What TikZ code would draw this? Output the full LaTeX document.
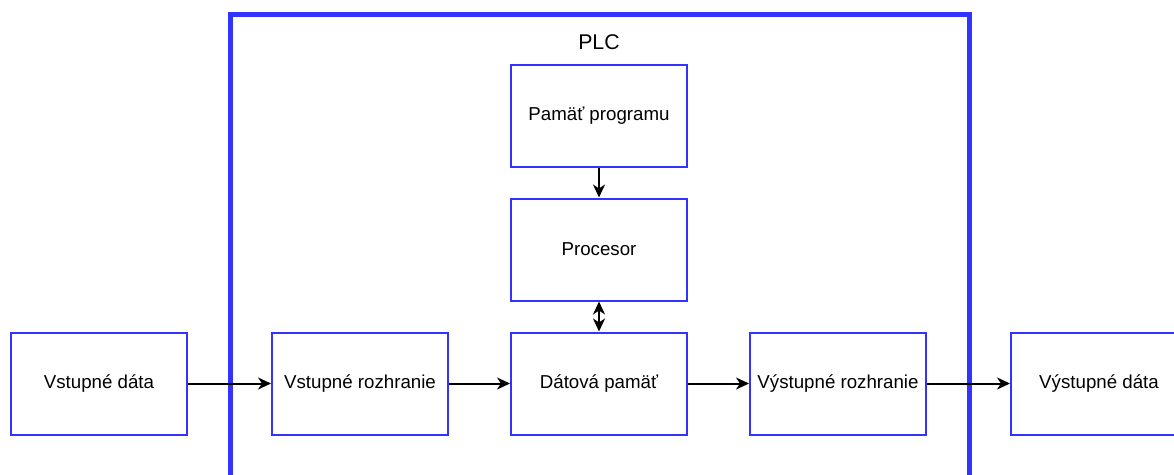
\documentclass[tikz,border=0pt]{standalone}
\usepackage{fontspec}
\setmainfont{Liberation Sans}
\usetikzlibrary{arrows.meta}
\definecolor{frameblue}{HTML}{3333FF}
\begin{document}
\begin{tikzpicture}[x=1pt,y=-1pt,
  block/.style={draw=frameblue,line width=2pt,fill=white,minimum width=176pt,
    minimum height=102pt,inner sep=0pt,font=\fontsize{18.7}{22}\selectfont},
  flow/.style={line width=2pt,-{Stealth[length=13pt,width=12pt,inset=4pt]}},
  both/.style={line width=2pt,{Stealth[length=13pt,width=12pt,inset=4pt]}-{Stealth[length=13pt,width=12pt,inset=4pt]}}]
  \useasboundingbox (0,0) rectangle (1174,474);
  \clip (0,0) rectangle (1174,474);
  \fill[white] (0,0) rectangle (1174,474);
  % PLC enclosure
  \draw[frameblue,line width=5.5pt] (230.5,14.5) rectangle (969.5,500);
  \node[font=\fontsize{21.3}{25}\selectfont] (plc) at (599,42) {PLC};
  % blocks
  \node[block] (pp)  at (599,115.5) {Pamäť programu};
  \node[block] (cpu) at (599,249.5) {Procesor};
  \node[block] (dm)  at (599,383.5) {Dátová pamäť};
  \node[block] (vi)  at (99,383.5)  {Vstupné dáta};
  \node[block] (ri)  at (360,383.5) {Vstupné rozhranie};
  \node[block] (ro)  at (838,383.5) {Výstupné rozhranie};
  \node[block] (vo)  at (1099,383.5) {Výstupné dáta};
  % connectors
  \draw[flow] (pp) -- (cpu);
  \draw[both] (cpu) -- (dm);
  \draw[flow] (vi) -- (ri);
  \draw[flow] (ri) -- (dm);
  \draw[flow] (dm) -- (ro);
  \draw[flow] (ro) -- (vo);
\end{tikzpicture}
\end{document}
